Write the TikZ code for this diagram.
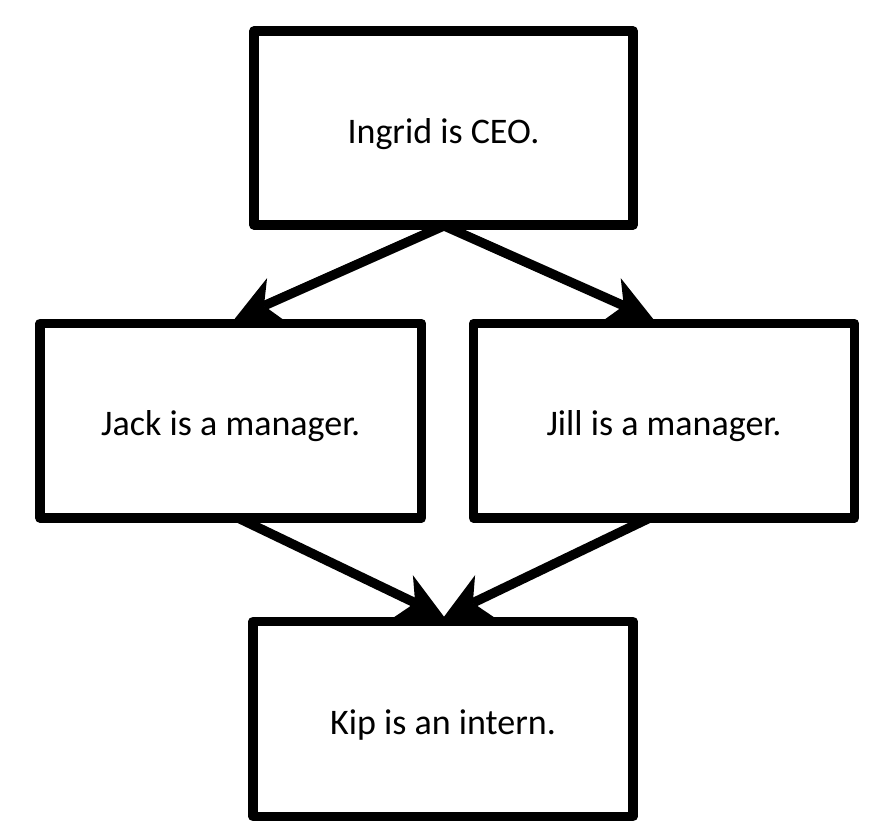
\documentclass[tikz,border=0pt]{standalone}
\usepackage{fontspec}
\setmainfont{Carlito}
\usetikzlibrary{arrows.meta,calc}
\begin{document}
\begin{tikzpicture}[x=1bp,y=-1bp,
  box/.style={draw=black, line width=9.5bp, line join=round, fill=white, inner sep=0pt,
    font=\fontsize{36bp}{43bp}\selectfont, text height=30bp, text depth=0bp},
  conn/.style={line width=9.5bp, -{Stealth[length=46bp, width=48bp, inset=14bp, line width=0pt]}}]
\useasboundingbox (0,0) rectangle (893,839);
\node[box, minimum width=379bp, minimum height=194bp] (T) at (443.5,128) {Ingrid is CEO.};
\node[box, minimum width=381.5bp, minimum height=194.5bp] (L) at (230.75,420.75) {Jack is a manager.};
\node[box, minimum width=381bp, minimum height=194.5bp] (R) at (664,420.75) {Jill is a manager.};
\node[box, minimum width=380bp, minimum height=195bp] (B) at (443,719) {Kip is an intern.};
\coordinate (Ts) at ($(T.south)+(0.5,-4)$);
\coordinate (Lt) at ($(L.north)+(4,0)$);
\coordinate (Rt) at ($(R.north)+(-11,0)$);
\coordinate (Ls) at ($(L.south)+(9,-4)$);
\coordinate (Rs) at ($(R.south)+(-16,-4)$);
\coordinate (Bt) at ($(B.north)+(1,0)$);
\draw[conn] (Ts) -- (Lt);
\draw[conn] (Ts) -- (Rt);
\draw[conn] (Ls) -- (Bt);
\draw[conn] (Rs) -- (Bt);
\end{tikzpicture}
\end{document}
